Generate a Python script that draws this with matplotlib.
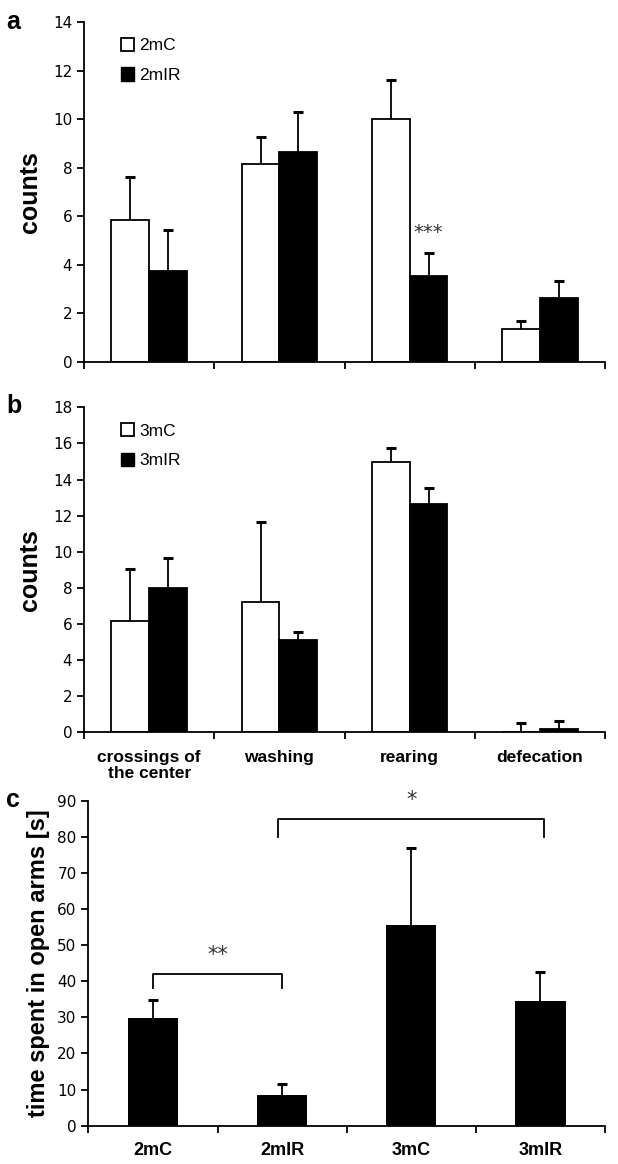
import numpy as np
import matplotlib.pyplot as plt
from matplotlib.patches import Patch

# panel a / b categories
behaviours = ["crossings of\nthe center", "washing", "rearing", "defecation"]
# panel a
a_ctrl = [5.85, 8.15, 10.0, 1.35]
a_ctrl_err = [1.75, 1.1, 1.6, 0.35]
a_ir = [3.75, 8.65, 3.55, 2.65]
a_ir_err = [1.7, 1.65, 0.95, 0.7]
# panel b
b_ctrl = [6.15, 7.2, 14.95, 0.0]
b_ctrl_err = [2.9, 4.45, 0.8, 0.5]
b_ir = [8.0, 5.1, 12.65, 0.15]
b_ir_err = [1.65, 0.45, 0.9, 0.45]
# panel c
groups_c = ["2mC", "2mIR", "3mC", "3mIR"]
c_time = [29.8, 8.6, 55.5, 34.5]
c_time_err = [5.0, 2.9, 21.3, 8.2]

plt.rcParams['font.family'] = ['DejaVu Sans']
lab_font = dict(family='Liberation Sans', weight='bold')

fig = plt.figure(figsize=(6.18, 11.64), dpi=100)
ax_a = fig.add_axes([0.136, 0.689, 0.843, 0.292])
ax_b = fig.add_axes([0.136, 0.371, 0.843, 0.279])
ax_c = fig.add_axes([0.143, 0.033, 0.836, 0.279])

w = 0.29
x = np.arange(4) + 0.5


def upper_err(ax, xs, ys, errs):
    # only the upper whisker, cap at top
    tops = np.array(ys) + np.array(errs)
    ax.vlines(xs, ys, tops, color="black", lw=1.3, zorder=1)
    ax.plot(xs, tops, ls="none", marker="_", ms=7, mew=2.2, color="black", zorder=1)


def style(ax, ymax, ystep):
    for s in ["top", "right"]:
        ax.spines[s].set_visible(False)
    ax.spines["left"].set_linewidth(1.3)
    ax.spines["bottom"].set_linewidth(1.3)
    ax.set_ylim(0, ymax)
    ax.set_yticks(np.arange(0, ymax + 1, ystep))
    ax.set_xlim(0, 4)
    ax.set_xticks([0, 1, 2, 3, 4])
    ax.set_xticklabels([])
    ax.tick_params(axis="both", direction="out", length=5, width=1.3, labelsize=11)


for ax, ctrl, ce, ir, ie, names, ymax, ystep in [
        (ax_a, a_ctrl, a_ctrl_err, a_ir, a_ir_err, ("2mC", "2mIR"), 14, 2),
        (ax_b, b_ctrl, b_ctrl_err, b_ir, b_ir_err, ("3mC", "3mIR"), 18, 2)]:
    ax.bar(x - w / 2, ctrl, w, color="white", edgecolor="black", linewidth=1.3, zorder=2)
    ax.bar(x + w / 2, ir, w, color="black", edgecolor="black", linewidth=1.3, zorder=2)
    upper_err(ax, x - w / 2, ctrl, ce)
    upper_err(ax, x + w / 2, ir, ie)
    style(ax, ymax, ystep)
    ax.set_ylabel("counts", fontsize=18, labelpad=8, **lab_font)
    handles = [Patch(facecolor="white", edgecolor="black", linewidth=1.3),
               Patch(facecolor="black", edgecolor="black")]
    ax.legend(handles, names, loc="upper left", bbox_to_anchor=(0.04, 1.0), frameon=False,
              handlelength=0.8, handleheight=0.8, handletextpad=0.3,
              labelspacing=0.8, prop={"family": "Liberation Sans", "size": 12.5})

ax_a.text(x[2] + w / 2, a_ir[2] + a_ir_err[2] + 0.45, "***", ha="center", va="bottom",
          fontsize=14, color="#333333")

for xi, name in zip(x, behaviours):
    ax_b.text(xi, -1.0, name, ha="center", va="top", fontsize=12.5, linespacing=1.1,
              clip_on=False, **lab_font)

# panel c
wc = 0.39
ax_c.bar(x, c_time, wc, color="black", zorder=2)
upper_err(ax_c, x, c_time, c_time_err)
style(ax_c, 90, 10)
for xi, name in zip(x, groups_c):
    ax_c.text(xi, -4.5, name, ha="center", va="top", fontsize=13, clip_on=False, **lab_font)
ax_c.set_ylabel("time spent in open arms [s]", fontsize=17, labelpad=5, **lab_font)


def bracket(ax, x1, x2, y, drop, txt):
    ax.plot([x1, x1, x2, x2], [y - drop, y, y, y - drop], color="black", lw=1.3, clip_on=False)
    ax.text((x1 + x2) / 2, y + 2.5, txt, ha="center", va="bottom", fontsize=15, color="#333333")


bracket(ax_c, x[0], x[1], 42, 4, "**")
bracket(ax_c, x[1] - 0.03, x[3] + 0.03, 85, 5, "*")

fig.text(0.01, 0.975, "a", fontsize=18, **lab_font)
fig.text(0.01, 0.645, "b", fontsize=18, **lab_font)
fig.text(0.01, 0.307, "c", fontsize=18, **lab_font)

fig.savefig("out.png", dpi=100)
